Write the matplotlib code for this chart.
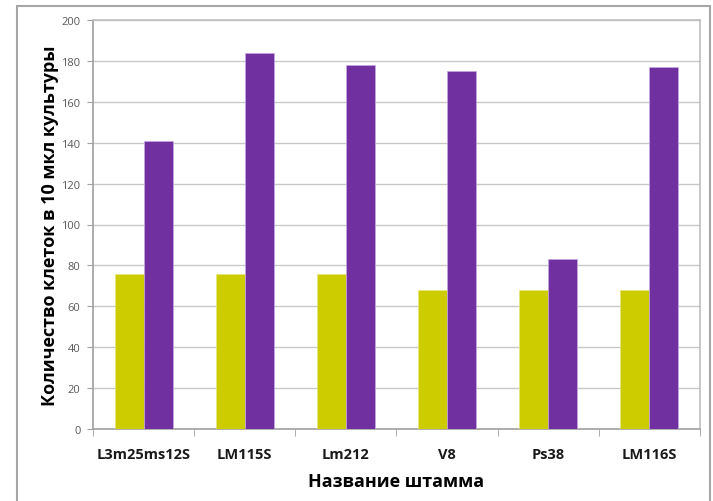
import matplotlib
matplotlib.use("Agg")
import matplotlib.pyplot as plt
import numpy as np
from matplotlib.patches import Rectangle

strains = ["L3m25ms12S", "LM115S", "Lm212", "V8", "Ps38", "LM116S"]
series_a = [76, 76, 76, 68, 68, 68]
series_b = [141, 184, 178, 175, 83, 177]
yticks = list(range(0, 201, 20))

plt.rcParams['font.family'] = ['Open Sans', 'DejaVu Sans']

W, H = 713, 502
fig = plt.figure(figsize=(W / 100, H / 100), dpi=100)
fig.patch.set_facecolor("white")

# outer chart frame
fig.patches.append(Rectangle((17 / W, -0.01), (710 - 17) / W, 1 - 7 / H + 0.01,
                             transform=fig.transFigure, fill=False,
                             edgecolor="#a6a6a6", linewidth=1.5))

left, right, top, bottom = 93, 700, 21, 430
ax = fig.add_axes([left / W, 1 - bottom / H, (right - left) / W, (bottom - top) / H])

x = np.arange(len(strains))
bw = 0.287
ax.bar(x - bw / 2, series_a, bw, color="#cccc00", edgecolor="#e6e680", linewidth=0.5, zorder=3)
ax.bar(x + bw / 2, series_b, bw, color="#7030a0", edgecolor="#c8a8e0", linewidth=0.5, zorder=3)

ax.set_xlim(-0.5, len(strains) - 0.5)
ax.set_ylim(0, 200)
ax.set_yticks(yticks)
ax.yaxis.grid(True, color="#c8c8c8", linewidth=1.0, zorder=0)
ax.set_axisbelow(True)

for s in ["top", "right"]:
    ax.spines[s].set_color("#bfbfbf")
    ax.spines[s].set_linewidth(1.2)
for s in ["left", "bottom"]:
    ax.spines[s].set_color("#a0a0a0")
    ax.spines[s].set_linewidth(1.2)

ax.tick_params(axis="y", direction="out", length=4, color="#a0a0a0",
               labelsize=8, labelcolor="#595959", pad=5)
ax.set_xticks(x)
ax.set_xticklabels(strains, fontsize=10.5, fontweight="bold", color="#1a1a1a")
ax.tick_params(axis="x", length=0, pad=13)
ax.set_xticks(np.arange(-0.5, len(strains), 1.0), minor=True)
ax.tick_params(axis="x", which="minor", direction="out", length=5, color="#a0a0a0")

ax.set_ylabel("Количество клеток в 10 мкл культуры", fontsize=13,
              fontweight="bold", color="black", labelpad=2)
ax.set_xlabel("Название штамма", fontsize=13, fontweight="bold",
              color="black", labelpad=8)

fig.savefig("out.png", dpi=100)
